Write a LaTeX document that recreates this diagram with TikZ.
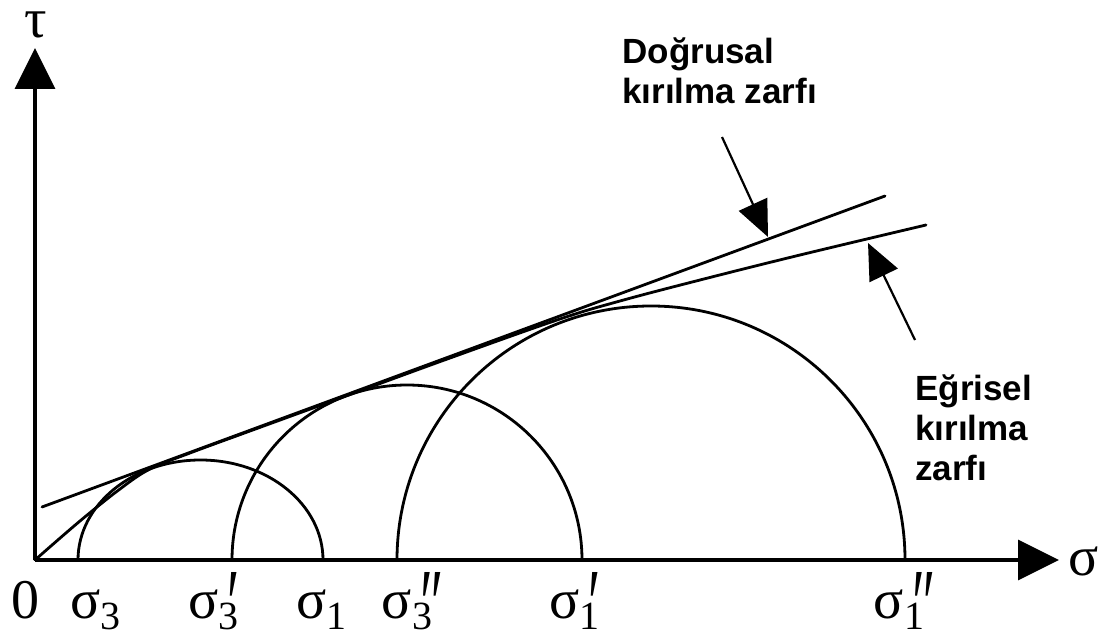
\documentclass[tikz,border=0pt]{standalone}
\usepackage{fontspec}
\setmainfont{Liberation Serif}
\newfontfamily\notefont{Liberation Sans}
\usepackage{tikz}
\usetikzlibrary{arrows.meta}
\newcommand{\sgm}[2]{σ\raisebox{-0.2em}{\fontsize{20}{20}\selectfont #1}\kern-0.2em\raisebox{-0.36em}{\scalebox{1}[1.8]{#2}}}
\tikzset{
  axisline/.style={line width=1.7pt,-{Triangle[length=20.5pt,width=20pt]}},
  mohr/.style={line width=1.4pt,line cap=round,line join=round},
  callarr/.style={-{Triangle[length=18pt,width=15.5pt]},line width=1.1pt},
  axislabel/.style={font=\fontsize{28}{28}\selectfont,inner sep=0pt},
  ticklabel/.style={font=\fontsize{28}{28}\selectfont,inner sep=0pt,anchor=base},
  notetext/.style={font=\notefont\bfseries\fontsize{17.5}{20}\selectfont,align=left,inner sep=0pt,anchor=base west}
}
\begin{document}
\begin{tikzpicture}[x=0.5pt,y=0.5pt]
\useasboundingbox (0,0) rectangle (1111,637);

\coordinate (Origin)   at (35,77);
\coordinate (TauTip)   at (35,589);
\coordinate (SigmaTip) at (1059,77);

\draw[axisline] (Origin)--(TauTip);
\draw[axisline] (Origin)--(SigmaTip);

\node[axislabel] (TauLbl)   at (36,612) {τ};
\node[axislabel] (SigmaLbl) at (1084,76) {σ};

% Mohr circles
\draw[mohr] (78,77) arc[start angle=180,end angle=0,x radius=122.5,y radius=100];
\draw[mohr] (232,77) arc[start angle=180,end angle=0,radius=175];
\draw[mohr] (397,77) arc[start angle=180,end angle=0,radius=254];

% envelopes
\coordinate (LinStart) at (42,130);
\coordinate (LinEnd)   at (885,441);
\draw[mohr] (LinStart)--(LinEnd);

\draw[mohr] plot[smooth,tension=.6] coordinates {
  (35,77) (80,116) (120,148) (150,168) (190,184) (250,206)
  (346,241) (450,279) (560,318) (620,336) (700,357) (800,382) (926,412)};

% axis labels
\node[ticklabel] (LblZero)      at (25,19)  {0};
\node[ticklabel] (LblSigThree)  at (90,19)  {\sgm{3}{}};
\node[ticklabel] (LblSigThreeA) at (214,19) {\sgm{3}{′}};
\node[ticklabel] (LblSigOne)    at (316,19) {\sgm{1}{}};
\node[ticklabel] (LblSigThreeB) at (413,19) {\sgm{3}{″}};
\node[ticklabel] (LblSigOneA)   at (575,19) {\sgm{1}{′}};
\node[ticklabel] (LblSigOneB)   at (905,19) {\sgm{1}{″}};

% callouts
\node[notetext] (LinNote) at (622,533) {Doğrusal\\kırılma zarfı};
\node[notetext] (CurNote) at (915,157) {Eğrisel\\kırılma\\zarfı};

\coordinate (LinTail) at (722,500);
\coordinate (LinTip)  at (768,400);
\coordinate (CurTail) at (915,297);
\coordinate (CurTip)  at (868,394);

\draw[callarr] (LinTail)--(LinTip);
\draw[callarr] (CurTail)--(CurTip);

\end{tikzpicture}
\end{document}
